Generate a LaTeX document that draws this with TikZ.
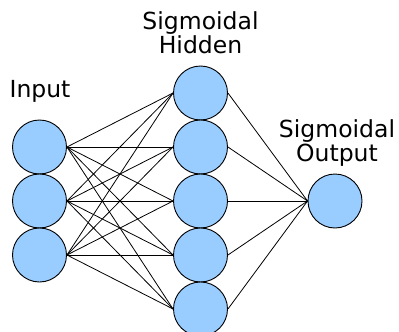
\documentclass[tikz,border=0pt]{standalone}
\usepackage{fontspec}
\setmainfont{DejaVu Sans}
\definecolor{neuron}{RGB}{153,204,255}
\begin{document}
\begin{tikzpicture}[x=1pt,y=-1pt,
  neuronstyle/.style={circle,draw=black,fill=neuron,line width=0.9pt,minimum size=54pt,inner sep=0pt},
  labelstyle/.style={anchor=base,inner sep=0pt,font=\fontsize{23.5}{24}\selectfont},
  edgestyle/.style={draw=black,line width=0.8pt}]
\useasboundingbox (0,0) rectangle (399,332);
\foreach \i/\y in {1/147,2/201,3/255} \node[neuronstyle] (in\i) at (39.5,\y) {};
\foreach \j/\y in {1/93,2/147,3/201,4/255,5/309} \node[neuronstyle] (h\j) at (200.5,\y) {};
\node[neuronstyle] (out) at (335,201) {};
\foreach \i in {1,2,3} \foreach \j in {1,...,5} \draw[edgestyle] (in\i.east) -- (h\j.west);
\foreach \j in {1,...,5} \draw[edgestyle] (h\j.east) -- (out.west);
\node[labelstyle] (inlab) at (40,97.7) {Input};
\node[labelstyle] (hidlab1) at (200.5,29.3) {Sigmoidal};
\node[labelstyle] (hidlab2) at (200.5,53.3) {Hidden};
\node[labelstyle] (outlab1) at (337,137.7) {Sigmoidal};
\node[labelstyle] (outlab2) at (337,161.7) {Output};
\end{tikzpicture}
\end{document}
